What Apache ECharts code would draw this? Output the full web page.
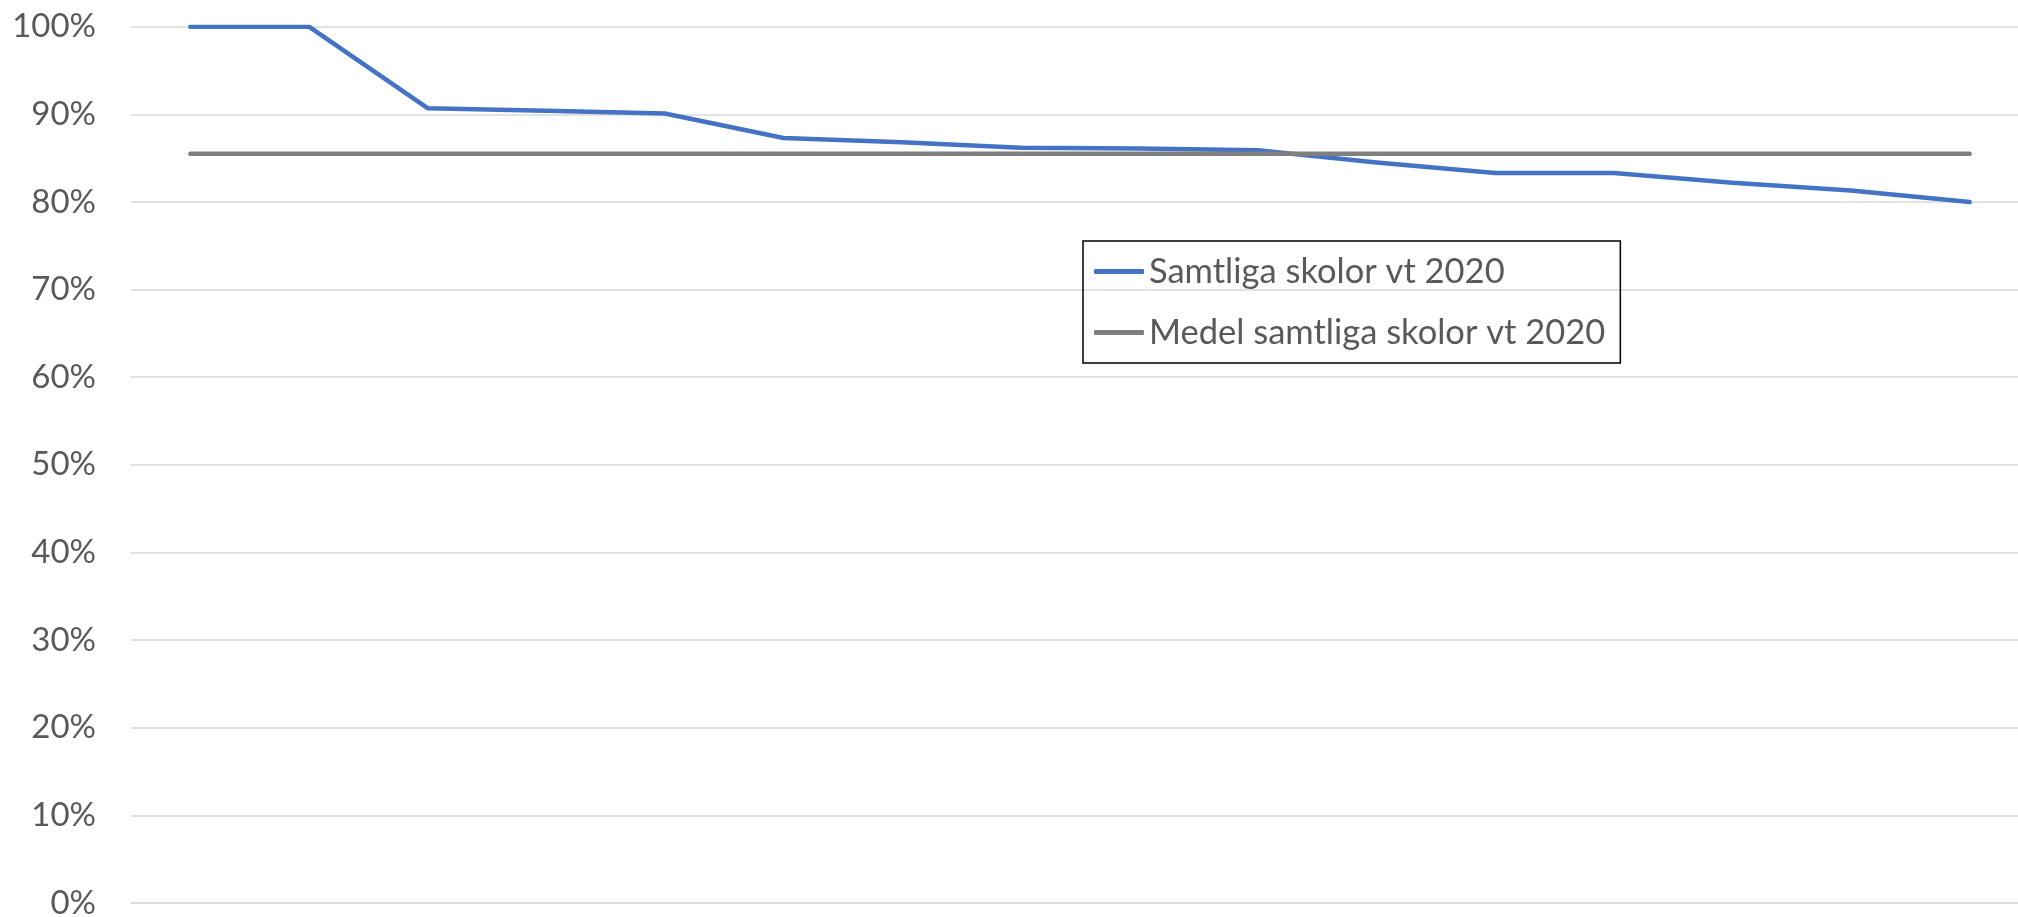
<!DOCTYPE html>
<html>
<head>
<meta charset="utf-8">
<script src="https://cdn.jsdelivr.net/npm/echarts@6/dist/echarts.min.js"></script>
<style>
html,body{margin:0;padding:0;background:#fff;}
#chart{width:2018px;height:917px;}
</style>
</head>
<body>
<div id="chart"></div>
<script>
const categories = ['Skola 1','Skola 2','Skola 3','Skola 4','Skola 5','Skola 6','Skola 7','Skola 8','Skola 9','Skola 10','Skola 11','Skola 12','Skola 13','Skola 14','Skola 15','Skola 16'];
const samtliga = [100, 100, 90.7, 90.4, 90.1, 87.3, 86.8, 86.2, 86.1, 85.9, 84.5, 83.3, 83.3, 82.2, 81.3, 80.0];
const medel = [85.5, 85.5, 85.5, 85.5, 85.5, 85.5, 85.5, 85.5, 85.5, 85.5, 85.5, 85.5, 85.5, 85.5, 85.5, 85.5];
const seriesNames = ['Samtliga skolor vt 2020', 'Medel samtliga skolor vt 2020'];

const chart = echarts.init(document.getElementById('chart'), null, {renderer: 'canvas'});
const font = 'Lato, "Open Sans", sans-serif';
chart.setOption({
  animation: false,
  backgroundColor: '#ffffff',
  grid: {left: 131, top: 26.7, right: -11, bottom: 14, containLabel: false, outerBoundsMode: 'none'},
  legend: {
    orient: 'vertical',
    left: 1083, top: 241,
    padding: [13, 15, 13, 11],
    borderColor: '#000000', borderWidth: 1.5,
    icon: 'roundRect',
    itemWidth: 50, itemHeight: 5, itemGap: 26,
    textStyle: {fontFamily: font, fontSize: 34.5, color: '#595959'},
    data: seriesNames
  },
  xAxis: {
    type: 'category', data: categories, boundaryGap: true,
    axisLine: {show: true, lineStyle: {color: '#D9D9D9', width: 1.5}},
    axisTick: {show: false}, axisLabel: {show: false}, splitLine: {show: false}
  },
  yAxis: {
    type: 'value', min: 0, max: 100, interval: 10,
    axisLine: {show: false}, axisTick: {show: false},
    axisLabel: {formatter: '{value}%', fontFamily: font, fontSize: 33, color: '#595959', margin: 35},
    splitLine: {lineStyle: {color: '#D9D9D9', width: 1.5}}
  },
  series: [
    {name: seriesNames[0], type: 'line', data: samtliga, symbol: 'none',
     lineStyle: {color: '#4472C4', width: 4.5, cap: 'round', join: 'round'}, itemStyle: {color: '#4472C4'}},
    {name: seriesNames[1], type: 'line', data: medel, symbol: 'none',
     lineStyle: {color: '#7F7F7F', width: 4.5, cap: 'round', join: 'round'}, itemStyle: {color: '#7F7F7F'}}
  ]
});
</script>
</body>
</html>
